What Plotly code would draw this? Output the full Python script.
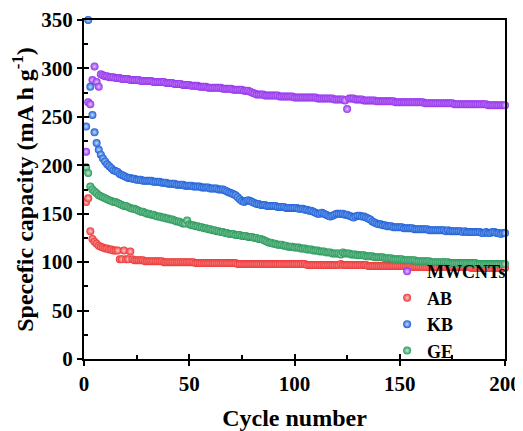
import plotly.graph_objects as go

cycles = list(range(1, 201))

mwcnts = [
    214, 265, 263, 288, 302, 286, 281, 294, 293, 292,
    292, 291, 291, 291, 290, 290, 290, 289, 289, 289,
    289, 288, 288, 288, 288, 288, 287, 287, 287, 287,
    287, 287, 286, 286, 286, 286, 286, 286, 285, 285,
    285, 285, 284, 284, 284, 284, 283, 283, 283, 283,
    282, 282, 282, 282, 281, 281, 281, 281, 280, 280,
    280, 280, 280, 280, 280, 279, 279, 279, 279, 279,
    278, 278, 278, 278, 278, 277, 277, 277, 276, 275,
    274, 273, 273, 273, 273, 272, 272, 272, 272, 272,
    272, 272, 271, 271, 271, 271, 271, 271, 271, 270,
    270, 270, 270, 270, 270, 270, 270, 270, 270, 270,
    269, 269, 269, 269, 269, 269, 269, 269, 268, 268,
    268, 268, 268, 267, 258, 269, 269, 269, 268, 268,
    268, 268, 267, 267, 267, 267, 267, 267, 266, 266,
    266, 266, 266, 266, 266, 266, 266, 265, 265, 265,
    265, 265, 265, 265, 265, 265, 265, 265, 265, 265,
    265, 264, 264, 264, 264, 264, 264, 264, 264, 264,
    264, 264, 264, 264, 264, 263, 263, 263, 263, 263,
    263, 263, 263, 263, 263, 263, 263, 263, 263, 263,
    263, 262, 262, 262, 262, 262, 262, 262, 262, 262,
]

ab = [
    162, 166, 132, 124, 121, 119, 117, 116, 115, 114,
    114, 113, 113, 112, 112, 112, 103, 103, 112, 103,
    103, 111, 103, 102, 102, 102, 102, 102, 101, 101,
    101, 101, 101, 101, 101, 101, 101, 100, 100, 100,
    100, 100, 100, 100, 100, 100, 100, 100, 100, 100,
    100, 100, 99, 99, 99, 99, 99, 99, 99, 99,
    99, 99, 99, 99, 99, 99, 99, 99, 99, 99,
    99, 99, 98, 98, 98, 98, 98, 98, 98, 98,
    98, 98, 98, 98, 98, 98, 98, 98, 98, 98,
    98, 98, 98, 98, 98, 98, 98, 98, 98, 98,
    98, 98, 98, 98, 98, 97, 97, 97, 97, 97,
    97, 97, 97, 97, 97, 97, 97, 97, 97, 97,
    97, 98, 97, 97, 97, 97, 97, 97, 97, 97,
    97, 97, 97, 97, 96, 96, 96, 96, 96, 96,
    96, 96, 96, 96, 96, 96, 96, 96, 96, 96,
    96, 96, 96, 96, 96, 95, 95, 95, 95, 95,
    95, 95, 95, 95, 95, 95, 95, 95, 95, 95,
    95, 95, 95, 95, 95, 95, 95, 95, 95, 95,
    95, 95, 95, 94, 94, 94, 94, 94, 94, 94,
    94, 94, 94, 94, 94, 94, 94, 94, 94, 94,
]

kb = [
    240, 350, 281, 252, 234, 223, 216, 211, 207, 204,
    201, 199, 197, 195, 194, 193, 191, 190, 189, 188,
    187, 187, 186, 186, 185, 185, 185, 184, 184, 184,
    184, 184, 183, 183, 183, 183, 182, 182, 182, 181,
    181, 181, 181, 180, 180, 180, 180, 179, 179, 179,
    179, 178, 178, 178, 178, 177, 177, 177, 177, 176,
    176, 176, 176, 175, 175, 175, 174, 173, 172, 171,
    170, 169, 167, 165, 163, 162, 163, 164, 163, 162,
    161, 160, 160, 159, 159, 159, 158, 158, 158, 158,
    158, 157, 157, 157, 157, 156, 156, 156, 156, 156,
    156, 155, 155, 155, 154, 154, 153, 153, 152, 151,
    150, 150, 151, 150, 149, 148, 147, 148, 149, 150,
    150, 150, 150, 149, 149, 148, 147, 146, 147, 148,
    148, 147, 147, 146, 145, 144, 142, 141, 140, 139,
    139, 138, 138, 137, 137, 137, 136, 136, 136, 136,
    136, 135, 135, 135, 135, 135, 134, 134, 134, 134,
    134, 134, 134, 133, 133, 133, 133, 133, 133, 133,
    133, 132, 133, 132, 132, 132, 132, 132, 132, 131,
    132, 131, 131, 131, 131, 131, 131, 131, 130, 130,
    131, 130, 130, 131, 131, 130, 130, 129, 130, 130,
]

ge = [
    198, 192, 178, 175, 173, 171, 169, 168, 167, 166,
    165, 164, 163, 162, 162, 161, 160, 159, 158, 158,
    157, 156, 155, 155, 154, 153, 152, 152, 151, 150,
    150, 149, 149, 148, 147, 147, 146, 146, 145, 145,
    144, 144, 143, 142, 142, 141, 140, 140, 143, 139,
    138, 138, 137, 137, 136, 136, 135, 135, 134, 134,
    133, 133, 132, 132, 131, 131, 130, 130, 129, 129,
    129, 128, 128, 128, 127, 127, 127, 126, 126, 126,
    125, 125, 124, 124, 123, 122, 121, 120, 120, 119,
    119, 118, 118, 118, 117, 117, 116, 116, 116, 115,
    115, 115, 114, 114, 114, 113, 113, 113, 112, 112,
    112, 111, 111, 111, 110, 110, 110, 109, 109, 109,
    109, 108, 110, 109, 109, 109, 108, 108, 108, 107,
    107, 107, 107, 106, 106, 106, 106, 105, 105, 105,
    105, 105, 104, 104, 104, 104, 103, 103, 103, 103,
    103, 102, 102, 102, 102, 102, 102, 101, 101, 101,
    101, 101, 101, 101, 100, 100, 100, 100, 100, 100,
    100, 100, 100, 99, 99, 99, 99, 99, 99, 99,
    99, 99, 99, 99, 99, 99, 98, 98, 98, 98,
    98, 98, 98, 98, 98, 98, 98, 98, 98, 98,
]

series_names = ["MWCNTs", "AB", "KB", "GE"]
series_values = [mwcnts, ab, kb, ge]
colors = ["#9430ec", "#ec3535", "#1a5ed6", "#27985a"]
highlights = ["#e2c4ff", "#ffcccc", "#c8dcff", "#c8ecd6"]

FONT = "Liberation Serif, Times New Roman, serif"

fig = go.Figure()
for name, vals, col, hl in zip(series_names, series_values, colors, highlights):
    fig.add_trace(go.Scatter(
        x=cycles, y=vals, name=name, mode="markers", cliponaxis=False,
        marker=dict(size=8, color=col, line=dict(width=0),
                    gradient=dict(type="radial", color=hl)),
    ))

axis_font = dict(family=FONT, size=21, color="black", weight="bold")

# page body has an 8 px margin, so the figure is 8 px smaller than the window
fig.update_layout(
    width=515, height=423,
    margin=dict(l=76, r=18, t=12, b=72),
    paper_bgcolor="white", plot_bgcolor="white",
    font=dict(family=FONT, color="black"),
    showlegend=True,
    legend=dict(x=0.72, y=-0.03, xanchor="left", yanchor="bottom",
                bgcolor="rgba(0,0,0,0)", borderwidth=0,
                font=dict(family=FONT, size=18, color="black", weight="bold"),
                itemsizing="trace", tracegroupgap=0),
    xaxis=dict(range=[0, 200], tickvals=[0, 50, 100, 150, 200], automargin=False,
               ticks="outside", ticklen=5, tickwidth=1.5, tickcolor="black",
               minor=dict(tickvals=[25, 75, 125, 175], ticks="inside", ticklen=4, tickcolor="black", tickwidth=1.5),
               showline=True, linecolor="black", linewidth=2, mirror=True,
               showgrid=False, zeroline=False, tickfont=axis_font,
               title=dict(text="Cycle number", font=dict(family=FONT, size=24, color="black", weight="bold"))),
    yaxis=dict(range=[0, 350], tickvals=[0, 50, 100, 150, 200, 250, 300, 350], automargin=False,
               ticks="outside", ticklen=5, tickwidth=1.5, tickcolor="black",
               minor=dict(tickvals=[25, 75, 125, 175, 225, 275, 325], ticks="inside", ticklen=4, tickcolor="black", tickwidth=1.5),
               showline=True, linecolor="black", linewidth=2, mirror=True,
               showgrid=False, zeroline=False, tickfont=axis_font,
               title=dict(text="Specefic capacity (mA h g<sup>-1</sup>)", font=dict(family=FONT, size=24, color="black", weight="bold"))),
    xaxis2=dict(range=[0, 200], overlaying="x", anchor="y", side="bottom", automargin=False,
                tickvals=[0, 50, 100, 150, 200], ticks="inside", ticklen=5, tickwidth=1.5,
                tickcolor="black", showticklabels=False, showgrid=False, zeroline=False, showline=False),
    yaxis2=dict(range=[0, 350], overlaying="y", anchor="x", side="left", automargin=False,
                tickvals=[0, 50, 100, 150, 200, 250, 300, 350], ticks="inside", ticklen=5, tickwidth=1.5,
                tickcolor="black", showticklabels=False, showgrid=False, zeroline=False, showline=False),
)

# invisible trace to activate overlay axes for the cross-through major ticks
fig.add_trace(go.Scatter(x=[None], y=[None], xaxis="x2", yaxis="y2", showlegend=False, hoverinfo="skip"))

fig.write_html("out.html")
